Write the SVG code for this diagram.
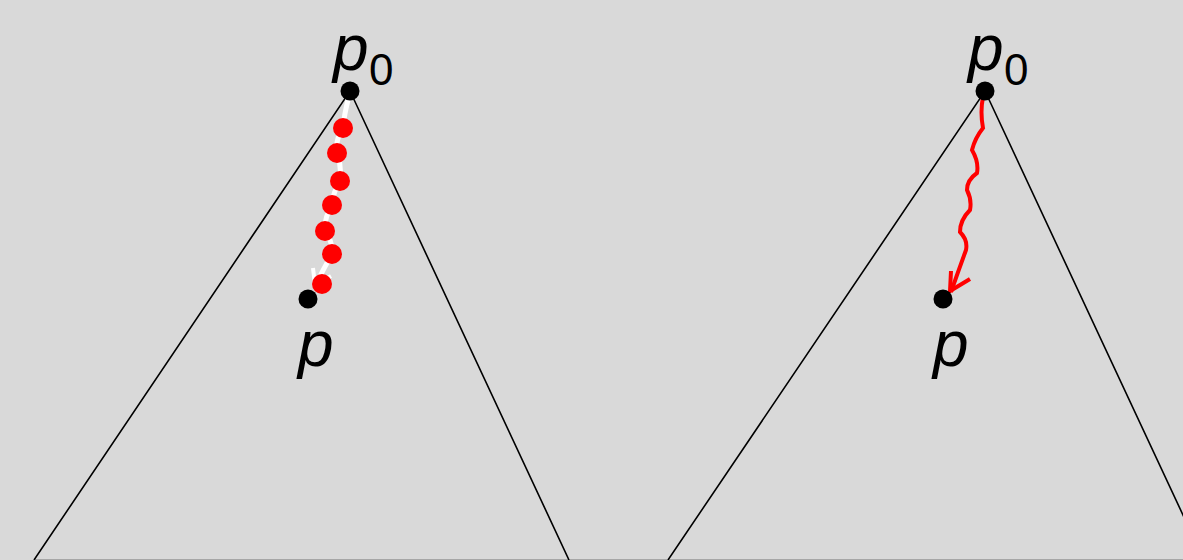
<svg xmlns="http://www.w3.org/2000/svg" width="1183" height="560" viewBox="0 0 1183 560">
<style>
.edge{fill:none;stroke:#000;stroke-width:1.6}
.lbl{font-family:"Liberation Sans",Arial,sans-serif;font-style:italic;font-size:64px;fill:#000}
.sub{font-family:"Liberation Sans",Arial,sans-serif;font-size:44px;fill:#000}
.red{fill:#ff0000}
</style>
<rect width="1183" height="560" fill="#d9d9d9"/>
<line x1="34" y1="559.5" x2="1183" y2="559.5" stroke="#a6a6a6" stroke-width="1"/>
<g id="cone-left">
<path class="edge" d="M34,560 L350,91 L569,560"/>
</g>
<g id="cone-right">
<path class="edge" d="M668,560 L985,91 L1204,560"/>
</g>
<g id="connectors">
<path d="M349,96 Q344,115 343,128 Q335,140 337,153 Q342,167 340,181 Q333,192 332,205 Q324,218 325,231 Q333,242 332,254 Q324,268 316,284" fill="none" stroke="#fff" stroke-width="5"/>
<path d="M313,268 L315,285 L331,276" fill="none" stroke="#fff" stroke-width="4"/>
<path d="M983,97 Q980,112 983,128 Q975,138 972,150 Q979,162 977,173 Q967,180 967,190 Q972,200 970,210 Q960,220 960,232 Q968,240 966,250 Q958,272 951,292" fill="none" stroke="#ff0000" stroke-width="4"/>
<path d="M951,271 L950,291 L970,279" fill="none" stroke="#ff0000" stroke-width="4"/>
</g>
<g id="dots-left">
<circle class="red" cx="343" cy="128" r="10"/>
<circle class="red" cx="337" cy="153" r="10"/>
<circle class="red" cx="340" cy="181" r="10"/>
<circle class="red" cx="332" cy="205" r="10"/>
<circle class="red" cx="325" cy="231" r="10"/>
<circle class="red" cx="332" cy="254" r="10"/>
<circle class="red" cx="322" cy="284" r="10"/>
</g>
<g id="node-p0-left">
<circle cx="350" cy="91" r="9.5" fill="#000"/>
<text class="lbl" x="333" y="70">p</text><text class="sub" x="369" y="85">0</text>
</g>
<g id="node-p-left">
<circle cx="308" cy="299" r="9.5" fill="#000"/>
<text class="lbl" x="298" y="366">p</text>
</g>
<g id="node-p0-right">
<circle cx="985" cy="91" r="9.5" fill="#000"/>
<text class="lbl" x="968" y="70">p</text><text class="sub" x="1004" y="85">0</text>
</g>
<g id="node-p-right">
<circle cx="943" cy="299" r="9.5" fill="#000"/>
<text class="lbl" x="933" y="366">p</text>
</g>
</svg>
